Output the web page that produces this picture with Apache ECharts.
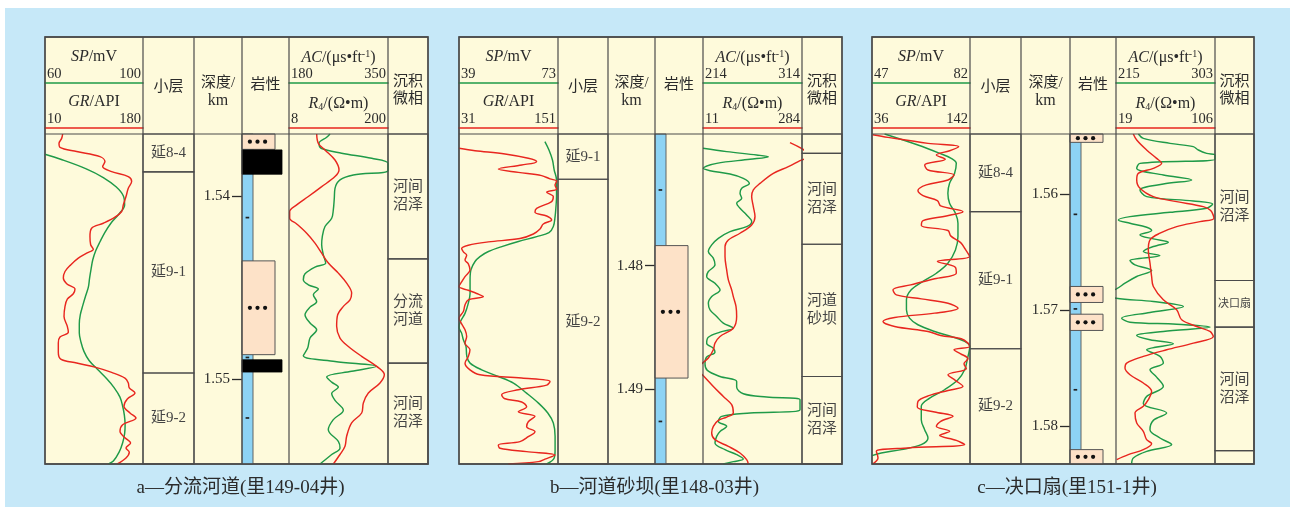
<!DOCTYPE html>
<html><head><meta charset="utf-8">
<script src="https://cdn.jsdelivr.net/npm/echarts@6/dist/echarts.min.js"></script>
<style>html,body{margin:0;padding:0;background:#fff}#c{width:1295px;height:507px}</style>
</head><body><div id="c"></div>
<script>
// ---------------- DATA (depth in metres, values in log units) ----------------
const aTitle = 'a—分流河道(里149-04井)';
const bTitle = 'b—河道砂坝(里148-03井)';
const cTitle = 'c—决口扇(里151-1井)';

const aScaleSP = [60, 100], aScaleGR = [10, 180], aScaleAC = [180, 350], aScaleR4 = [8, 200];
const bScaleSP = [39, 73],  bScaleGR = [31, 151], bScaleAC = [214, 314], bScaleR4 = [11, 284];
const cScaleSP = [47, 82],  cScaleGR = [36, 142], cScaleAC = [215, 303], cScaleR4 = [19, 106];

const aDepth = [1536.61, 1554.66], bDepth = [1469.34, 1496.07], cDepth = [1554.81, 1583.25];
const aTicks = [1.54, 1.55], bTicks = [1.48, 1.49], cTicks = [1.56, 1.57, 1.58];

// [depth, value]
const aSP = [[1537.72,60.0],[1537.99,66.4],[1538.50,76.6],[1538.99,83.8],[1539.50,89.0],[1540.00,92.0],[1540.49,92.5],[1541.00,90.1],[1541.49,86.9],[1542.00,84.4],[1542.49,82.5],[1543.00,80.7],[1543.49,79.5],[1544.00,78.8],[1544.49,78.2],[1544.99,77.7],[1545.50,76.5],[1546.00,75.4],[1546.50,74.4],[1546.99,74.0],[1547.50,74.0],[1548.00,74.7],[1548.50,75.9],[1549.00,78.0],[1549.48,81.4],[1550.00,85.2],[1550.48,88.2],[1551.00,90.6],[1551.50,91.7],[1552.00,92.4],[1552.50,92.7],[1553.00,92.5],[1553.50,91.7],[1554.00,90.3],[1554.50,87.9],[1554.66,85.9]];
const aGR = [[1536.61,40.6],[1536.85,38.9],[1537.12,34.3],[1537.34,36.0],[1537.57,64.9],[1537.85,105.4],[1538.12,114.0],[1538.39,110.0],[1538.67,125.6],[1538.94,154.5],[1539.21,160.3],[1539.58,154.5],[1540.03,150.5],[1540.49,145.8],[1540.85,143.0],[1541.16,131.4],[1541.49,111.2],[1541.76,90.9],[1542.22,88.0],[1542.67,89.2],[1542.91,93.8],[1543.13,82.3],[1543.40,67.8],[1543.77,54.5],[1544.13,44.7],[1544.49,41.8],[1544.80,47.6],[1545.09,62.0],[1545.35,59.1],[1545.64,48.7],[1546.04,44.7],[1546.59,43.0],[1547.13,48.7],[1547.46,50.5],[1547.72,36.0],[1548.04,33.1],[1548.55,33.1],[1548.92,37.2],[1549.14,64.9],[1549.36,96.7],[1549.65,125.6],[1549.96,148.7],[1550.23,154.5],[1550.50,156.2],[1550.78,166.1],[1551.10,152.8],[1551.50,147.0],[1551.87,157.4],[1552.14,167.8],[1552.51,144.7],[1552.87,140.1],[1553.23,148.7],[1553.51,158.5],[1553.78,150.5],[1554.02,156.2],[1554.33,150.5],[1554.66,135.4]];
const aAC = [[1536.61,250.4],[1536.79,244.7],[1537.12,231.5],[1537.39,235.0],[1537.66,270.4],[1537.94,322.0],[1538.21,350.0],[1538.61,350.0],[1538.85,290.5],[1539.12,267.6],[1539.58,259.0],[1540.12,257.8],[1540.76,256.1],[1541.22,253.3],[1541.67,241.8],[1542.22,237.2],[1542.67,236.1],[1543.22,239.0],[1543.67,243.0],[1543.89,224.6],[1544.26,207.5],[1544.58,204.6],[1544.86,213.2],[1545.09,230.4],[1545.40,221.8],[1545.77,227.5],[1546.08,216.1],[1546.50,207.5],[1546.95,216.1],[1547.32,227.5],[1547.77,216.1],[1548.32,212.1],[1548.74,204.6],[1549.05,259.0],[1549.32,330.5],[1549.59,287.6],[1549.90,244.7],[1550.18,253.3],[1550.45,264.7],[1550.81,253.3],[1551.18,259.0],[1551.72,273.3],[1552.23,256.1],[1552.78,247.5],[1553.42,264.7],[1553.78,267.6],[1554.14,253.3],[1554.66,233.2]];
const aR4 = [[1536.61,61.7],[1537.12,64.9],[1537.48,77.8],[1538.03,97.2],[1538.58,105.0],[1538.94,97.2],[1539.49,71.4],[1540.03,45.5],[1540.49,22.9],[1540.85,9.3],[1541.22,9.3],[1541.53,22.9],[1542.04,42.3],[1542.58,58.4],[1543.13,71.4],[1543.67,84.3],[1544.22,103.7],[1544.77,119.8],[1545.31,129.5],[1545.68,126.3],[1546.04,113.4],[1546.50,102.4],[1547.13,100.4],[1547.77,106.9],[1548.23,123.1],[1548.77,148.9],[1549.32,178.0],[1549.77,192.9],[1550.23,184.5],[1550.78,161.9],[1551.32,152.2],[1551.87,148.9],[1552.41,129.5],[1553.14,119.8],[1553.69,116.6],[1554.14,106.9],[1554.66,94.0]];

const bSP = [[1469.96,68.5],[1470.64,69.9],[1471.45,71.1],[1472.26,71.7],[1473.07,72.5],[1474.41,72.5],[1475.22,72.3],[1476.03,72.0],[1476.84,71.4],[1477.33,69.9],[1477.65,65.7],[1478.05,59.4],[1478.46,53.7],[1478.86,49.1],[1479.27,46.2],[1479.67,44.5],[1480.35,43.1],[1481.16,42.8],[1482.24,42.8],[1483.04,42.2],[1483.85,41.1],[1484.53,39.5],[1484.99,39.0],[1485.47,39.9],[1486.01,40.5],[1486.55,41.4],[1487.36,41.7],[1487.90,42.8],[1488.44,46.8],[1488.98,52.5],[1489.52,57.7],[1490.33,62.2],[1491.14,66.3],[1491.94,69.5],[1492.75,71.4],[1493.83,72.0],[1494.91,72.0],[1495.58,71.7],[1496.07,69.1]];
const bGR = [[1470.50,31.0],[1470.69,50.4],[1470.96,86.8],[1471.31,115.0],[1471.58,125.1],[1471.85,107.0],[1472.18,78.7],[1472.45,102.9],[1472.71,131.2],[1472.98,141.3],[1473.15,149.4],[1473.47,147.4],[1473.79,149.4],[1474.06,137.3],[1474.41,145.3],[1474.82,143.3],[1475.36,125.1],[1475.68,123.1],[1475.98,137.3],[1476.30,143.3],[1476.63,133.2],[1477.03,129.2],[1477.44,121.1],[1477.81,104.9],[1478.08,66.6],[1478.35,42.3],[1478.62,34.2],[1478.89,36.3],[1479.16,40.3],[1479.54,38.3],[1479.86,42.3],[1480.35,44.3],[1480.89,38.3],[1481.32,34.2],[1481.70,31.0],[1482.00,42.3],[1482.26,52.4],[1482.51,60.5],[1482.77,42.3],[1483.18,38.3],[1483.72,36.3],[1484.26,31.0],[1484.72,34.2],[1485.20,38.3],[1485.74,40.3],[1486.28,38.3],[1486.82,44.3],[1487.36,42.3],[1487.90,38.3],[1488.44,44.3],[1488.84,56.5],[1489.11,107.0],[1489.38,141.3],[1489.68,137.3],[1490.06,102.9],[1490.46,82.7],[1490.76,85.9],[1491.05,107.0],[1491.43,113.0],[1491.84,102.9],[1492.21,123.1],[1492.65,115.0],[1493.05,113.0],[1493.45,123.1],[1493.86,115.0],[1494.26,104.9],[1494.53,78.7],[1494.80,80.7],[1495.07,113.0],[1495.34,147.4],[1495.67,135.2],[1495.88,127.2],[1496.07,90.8]];
const bAC = [[1470.50,214.0],[1470.77,237.9],[1471.04,268.2],[1471.18,280.0],[1471.39,261.5],[1471.72,227.8],[1472.12,214.3],[1472.31,221.1],[1472.58,241.3],[1472.93,254.7],[1473.34,260.8],[1473.74,253.1],[1474.14,251.4],[1474.55,253.1],[1474.95,248.0],[1475.36,251.4],[1475.90,258.1],[1476.44,263.2],[1476.84,258.1],[1477.25,241.3],[1477.79,229.5],[1478.32,222.8],[1478.86,219.4],[1479.40,224.4],[1479.94,226.1],[1480.48,219.4],[1480.89,217.7],[1481.43,226.1],[1481.97,231.2],[1482.51,222.8],[1483.04,219.4],[1483.58,221.1],[1484.12,227.8],[1484.66,234.5],[1485.07,244.6],[1485.39,231.2],[1485.80,219.4],[1486.28,217.7],[1486.69,224.4],[1487.01,226.1],[1487.41,217.7],[1487.95,216.0],[1488.49,218.4],[1488.98,231.2],[1489.38,248.0],[1489.84,248.0],[1490.38,254.7],[1490.65,278.3],[1490.87,312.0],[1491.67,312.0],[1491.94,261.5],[1492.21,232.9],[1492.62,229.5],[1493.02,237.9],[1493.43,231.2],[1493.83,227.8],[1494.37,226.1],[1494.91,236.2],[1495.31,248.0],[1495.67,254.7],[1495.88,244.6],[1496.07,234.5]];
const bR4 = [[1470.04,250.9],[1471.12,306.0],[1471.50,278.5],[1471.99,246.3],[1472.53,205.0],[1473.34,168.2],[1473.87,149.8],[1474.41,145.2],[1475.22,149.8],[1476.03,154.4],[1476.71,145.2],[1477.38,113.0],[1477.92,80.9],[1478.46,71.7],[1479.27,71.7],[1480.35,76.3],[1481.16,80.9],[1481.97,90.1],[1482.51,94.6],[1483.31,102.0],[1484.12,103.8],[1485.07,94.6],[1485.74,57.9],[1486.28,44.1],[1486.82,39.5],[1487.49,25.7],[1487.84,11.9],[1488.38,-6.0],[1488.92,11.9],[1489.79,39.5],[1490.60,67.1],[1491.27,90.1],[1491.94,94.6],[1492.27,76.3],[1492.54,53.3],[1493.02,39.5],[1493.56,34.9],[1494.10,44.1],[1494.64,80.9],[1495.18,113.0],[1495.72,131.4],[1496.07,136.0]];

const cSP = [[1554.81,51.5],[1555.76,63.4],[1556.48,71.2],[1556.91,75.3],[1557.34,77.1],[1558.20,76.5],[1559.06,74.7],[1559.92,74.1],[1560.78,74.7],[1561.64,76.8],[1562.50,77.7],[1563.65,77.7],[1564.80,76.8],[1565.95,74.1],[1566.81,70.0],[1567.52,65.2],[1568.24,61.0],[1569.10,59.3],[1569.96,59.3],[1570.68,60.4],[1571.25,63.4],[1571.83,69.4],[1572.26,75.3],[1572.69,80.1],[1573.12,81.9],[1574.27,81.0],[1575.13,80.1],[1575.99,77.7],[1576.85,72.9],[1577.57,67.6],[1578.28,64.6],[1579.43,64.6],[1580.29,65.8],[1581.01,67.0],[1581.58,64.6],[1582.01,57.5],[1582.30,50.3],[1582.53,47.0]];
const cGR = [[1554.87,36.7],[1555.10,53.3],[1555.62,96.6],[1555.90,129.7],[1556.25,120.0],[1556.62,105.6],[1556.99,115.3],[1557.48,93.0],[1557.91,96.6],[1558.34,124.7],[1558.77,118.2],[1559.20,94.8],[1559.69,85.7],[1560.12,91.2],[1560.55,106.7],[1561.01,110.3],[1561.50,134.4],[1561.87,116.4],[1562.27,91.2],[1562.70,89.4],[1563.13,118.2],[1563.59,121.1],[1564.17,131.9],[1564.74,136.9],[1565.37,141.6],[1565.80,106.7],[1566.29,126.1],[1566.81,127.2],[1567.29,103.8],[1567.81,77.8],[1568.24,58.7],[1568.67,62.3],[1569.02,89.4],[1569.39,118.2],[1569.82,129.0],[1570.25,103.8],[1570.62,60.5],[1570.97,47.9],[1571.40,60.5],[1571.83,96.6],[1572.17,110.3],[1572.46,132.6],[1572.83,139.8],[1573.12,141.6],[1573.41,124.7],[1573.75,131.9],[1574.18,139.8],[1574.61,135.5],[1575.04,138.0],[1575.56,118.2],[1576.04,126.1],[1576.56,134.4],[1576.91,118.2],[1577.34,98.4],[1577.85,85.7],[1578.34,85.0],[1578.77,103.8],[1579.14,123.6],[1579.57,110.3],[1580.00,105.6],[1580.43,120.0],[1580.78,109.2],[1581.21,127.2],[1581.58,136.2],[1581.87,74.9],[1582.16,40.7],[1582.73,42.5],[1583.25,36.7]];
const cAC = [[1554.81,234.9],[1555.19,239.3],[1555.62,263.0],[1555.90,283.7],[1556.19,288.2],[1556.48,295.6],[1556.62,303.0],[1556.99,303.0],[1557.34,236.3],[1557.77,233.4],[1558.34,257.1],[1558.77,282.3],[1559.12,257.1],[1559.63,236.3],[1560.21,242.3],[1560.58,283.7],[1560.84,300.9],[1561.21,295.6],[1561.56,263.0],[1561.93,227.4],[1562.22,217.1],[1562.50,227.4],[1562.85,242.3],[1563.13,246.7],[1563.51,236.3],[1563.85,248.2],[1564.14,261.5],[1564.51,248.2],[1564.94,239.3],[1565.29,254.1],[1565.72,227.4],[1566.09,231.9],[1566.58,246.7],[1567.09,233.4],[1567.67,223.0],[1568.18,215.0],[1568.59,204.0],[1568.96,215.0],[1569.25,248.2],[1569.68,274.9],[1570.19,245.2],[1570.68,220.0],[1571.03,227.4],[1571.20,268.9],[1571.45,298.6],[1571.83,257.1],[1572.17,233.4],[1572.54,245.2],[1572.89,266.0],[1573.41,242.3],[1573.98,254.1],[1574.55,257.1],[1575.13,245.2],[1575.76,251.1],[1576.56,257.1],[1577.42,242.3],[1578.05,239.3],[1578.86,260.0],[1579.49,248.2],[1580.29,245.2],[1581.01,254.1],[1581.58,264.5],[1582.16,242.3],[1582.73,230.4],[1583.25,228.9]];
const cR4 = [[1554.81,34.2],[1555.33,37.2],[1556.19,45.9],[1556.91,54.7],[1557.34,59.1],[1557.77,51.8],[1558.20,38.6],[1558.77,37.2],[1559.49,40.1],[1560.21,51.8],[1560.64,72.3],[1561.07,95.7],[1561.41,102.2],[1562.07,105.1],[1562.36,92.8],[1562.79,72.3],[1563.36,57.7],[1563.94,48.9],[1564.80,47.4],[1565.95,48.9],[1567.09,50.3],[1567.95,51.8],[1569.10,60.6],[1569.96,72.3],[1570.82,76.7],[1571.40,89.9],[1571.83,101.6],[1572.26,104.5],[1572.83,87.0],[1573.41,63.5],[1573.98,43.0],[1574.55,28.4],[1574.98,26.9],[1575.56,31.3],[1576.27,43.0],[1576.99,50.3],[1577.71,47.4],[1578.28,43.0],[1578.86,35.7],[1579.72,37.2],[1580.43,43.0],[1581.15,45.9],[1581.50,50.3],[1582.01,43.0],[1582.44,29.8],[1582.87,19.6]];

// [top, bottom, label]
const aZones = [[1536.61,1538.68,'延8-4'],[1538.68,1549.68,'延9-1'],[1549.68,1554.66,'延9-2']];
const bZones = [[1469.34,1473.01,'延9-1'],[1473.01,1496.07,'延9-2']];
const cZones = [[1554.81,1561.50,'延8-4'],[1561.50,1573.32,'延9-1'],[1573.32,1583.25,'延9-2']];
const aFacies = [[1536.61,1543.44,'河间\n沼泽'],[1543.44,1549.14,'分流\n河道'],[1549.14,1554.66,'河间\n沼泽']];
const bFacies = [[1469.34,1470.91,''],[1470.91,1478.27,'河间\n沼泽'],[1478.27,1488.98,'河道\n砂坝'],[1488.98,1496.07,'河间\n沼泽']];
const cFacies = [[1554.81,1567.44,'河间\n沼泽'],[1567.44,1571.45,'决口扇'],[1571.45,1582.10,'河间\n沼泽'],[1582.10,1583.25,'']];

// lithology [top, bottom, kind]
const aLitho = [[1536.61,1554.66,'mud'],[1536.61,1537.45,'sand'],[1537.48,1538.81,'coal'],[1543.55,1548.68,'sand'],[1548.96,1549.63,'coal']];
const bLitho = [[1469.34,1496.07,'mud'],[1478.38,1489.11,'sand']];
const cLitho = [[1554.81,1583.25,'mud'],[1554.81,1555.53,'sand'],[1567.95,1569.33,'sand'],[1570.34,1571.74,'sand'],[1582.01,1583.25,'sand']];
const aDash = [1541.18,1548.83,1552.14];
const bDash = [1473.87,1492.62];
const cDash = [1561.73,1569.88,1576.85];

// ---------------- LAYOUT / STYLE ----------------
const SERIF = '"Liberation Serif","Noto Sans CJK SC",serif';
const CJK = '"Liberation Serif","Noto Sans CJK SC",sans-serif';
const GREEN = '#1f9a48', RED = '#e8261f', INK = '#2b2b2b', FRAME = '#4a4a4a';
const HEAD = 37, TOP = 134, BOT = 464;

const panels = [
  {cols:[45,143,194,242,289,388,428], sp:aSP, gr:aGR, ac:aAC, r4:aR4, sSP:aScaleSP, sGR:aScaleGR, sAC:aScaleAC, sR4:aScaleR4, depth:aDepth, ticks:aTicks, zones:aZones, facies:aFacies, litho:aLitho, dash:aDash, title:aTitle},
  {cols:[459,558,608,655,703,802,842], sp:bSP, gr:bGR, ac:bAC, r4:bR4, sSP:bScaleSP, sGR:bScaleGR, sAC:bScaleAC, sR4:bScaleR4, depth:bDepth, ticks:bTicks, zones:bZones, facies:bFacies, litho:bLitho, dash:bDash, title:bTitle},
  {cols:[872,970,1021,1070,1116,1215,1254], sp:cSP, gr:cGR, ac:cAC, r4:cR4, sSP:cScaleSP, sGR:cScaleGR, sAC:cScaleAC, sR4:cScaleR4, depth:cDepth, ticks:cTicks, zones:cZones, facies:cFacies, litho:cLitho, dash:cDash, title:cTitle}
];

const richName = {
  i:{fontStyle:'italic', fontFamily:SERIF, fontSize:16, color:INK},
  n:{fontFamily:SERIF, fontSize:16, color:INK},
  sup:{fontFamily:SERIF, fontSize:10, color:INK, verticalAlign:'top', padding:[0,0,8,0]},
  sub:{fontFamily:SERIF, fontSize:10, color:INK, verticalAlign:'bottom', padding:[6,0,0,0]}
};

const option = {animation:false, grid:[], xAxis:[], yAxis:[], series:[], graphic:{elements:[]}};
const G = option.graphic.elements;
G.push({type:'rect', shape:{x:5, y:8, width:1285, height:499}, style:{fill:'#c6e8f8'}, z:-10});

function text(x, y, t, size, extra) {
  return Object.assign({type:'text', x:x, y:y, z:20,
    style:{text:t, font:size+'px '+CJK, fill:INK, align:'center', verticalAlign:'middle', textAlign:'center', textVerticalAlign:'middle', lineHeight:size+3}}, extra||{});
}

panels.forEach(function(P){
  const c = P.cols;
  function addGrid(x0, x1){ option.grid.push({left:x0, top:TOP, width:x1-x0, height:BOT-TOP}); return option.grid.length-1; }
  function addY(gi, extra){ option.yAxis.push(Object.assign({gridIndex:gi, type:'value', inverse:true, min:P.depth[0], max:P.depth[1], show:false}, extra||{})); return option.yAxis.length-1; }
  function addX(gi, extra){ option.xAxis.push(Object.assign({gridIndex:gi, type:'value', min:0, max:1, show:false}, extra||{})); return option.xAxis.length-1; }
  function curveAxis(gi, sc, color, offset, name, gap){
    return addX(gi, {show:true, position:'top', min:sc[0], max:sc[1], offset:offset,
      axisLine:{show:true, onZero:false, lineStyle:{color:color, width:1.6}}, axisTick:{show:false}, splitLine:{show:false},
      axisLabel:{show:true, customValues:sc, alignMinLabel:'left', alignMaxLabel:'right', margin:2, padding:[0,2,0,2], color:INK, fontFamily:SERIF, fontSize:14.5},
      name:name, nameLocation:'middle', nameGap:gap, nameMoveOverlap:false, nameTextStyle:{fontFamily:SERIF, fontSize:16, color:INK, rich:richName}});
  }
  function line(xi, yi, arr, color){
    option.series.push({type:'line', xAxisIndex:xi, yAxisIndex:yi, data:arr.map(function(d){return [d[1], d[0]];}),
      showSymbol:false, symbol:'none', smooth:0.35, clip:true, silent:true, lineStyle:{color:color, width:1.45}, itemStyle:{color:color}});
  }
  function bands(gi, list){
    const xi = addX(gi), yi = addY(gi);
    option.series.push({type:'custom', xAxisIndex:xi, yAxisIndex:yi, silent:true, data:list.map(function(d){return [d[0], d[1]];}),
      renderItem:function(params, api){
        const cs = params.coordSys, y0 = api.coord([0, api.value(0)])[1], y1 = api.coord([0, api.value(1)])[1];
        const lbl = list[params.dataIndex][2];
        const fs = (lbl.indexOf('\n') < 0 && lbl.length === 3 && lbl[0] === '决') ? 11 : 15;
        return {type:'group', children:[
          {type:'rect', shape:{x:cs.x, y:y0, width:cs.width, height:y1-y0}, style:{fill:'none', stroke:FRAME, lineWidth:1.1}},
          {type:'text', x:cs.x+cs.width/2, y:(y0+y1)/2, style:{text:lbl, font:fs+'px '+CJK, fill:'#444', align:'center', verticalAlign:'middle', textAlign:'center', textVerticalAlign:'middle', lineHeight:18}}
        ]};
      }});
  }

  // Track 1: SP / GR
  let gi = addGrid(c[0], c[1]);
  let yi = addY(gi);
  let xSP = curveAxis(gi, P.sSP, GREEN, 51, '{i|SP}{n|/mV}', 18);
  let xGR = curveAxis(gi, P.sGR, RED, 6, '{i|GR}{n|/API}', 18);
  line(xSP, yi, P.sp, GREEN);
  line(xGR, yi, P.gr, RED);

  // zones
  bands(addGrid(c[1], c[2]), P.zones);

  // lithology with depth axis
  gi = addGrid(c[3], c[4]);
  const xL = addX(gi);
  const tickVals = P.ticks.map(function(t){return Math.round(t*1000);});
  const yL = addY(gi, {show:true, position:'left', axisLine:{show:false}, splitLine:{show:false},
    axisTick:{show:true, length:10, customValues:tickVals, lineStyle:{color:INK, width:1.3}},
    axisLabel:{show:true, customValues:tickVals, margin:12, color:INK, fontFamily:SERIF, fontSize:15,
      formatter:function(v){return (v/1000).toFixed(2);}}});
  const litho = P.litho;
  option.series.push({type:'custom', xAxisIndex:xL, yAxisIndex:yL, silent:true, data:litho.map(function(d){return [d[0], d[1]];}),
    renderItem:function(params, api){
      const cs = params.coordSys, y0 = api.coord([0, api.value(0)])[1], y1 = api.coord([0, api.value(1)])[1];
      const k = litho[params.dataIndex][2];
      if (k === 'mud') return {type:'rect', shape:{x:cs.x, y:y0, width:11, height:y1-y0}, style:{fill:'#8dd3f4', stroke:'#555', lineWidth:0.9}};
      if (k === 'coal') return {type:'rect', shape:{x:cs.x, y:y0, width:40, height:y1-y0}, style:{fill:'#000', stroke:'#000', lineWidth:0.8}};
      const w = 33, cx = cs.x + w/2 - 1, cy = (y0+y1)/2;
      return {type:'group', children:[
        {type:'rect', shape:{x:cs.x, y:y0, width:w, height:y1-y0}, style:{fill:'#fde2c8', stroke:'#555', lineWidth:1}},
        {type:'circle', shape:{cx:cx-7.6, cy:cy, r:2.1}, style:{fill:'#111'}},
        {type:'circle', shape:{cx:cx, cy:cy, r:2.1}, style:{fill:'#111'}},
        {type:'circle', shape:{cx:cx+7.6, cy:cy, r:2.1}, style:{fill:'#111'}}
      ]};
    }});
  option.series.push({type:'custom', xAxisIndex:xL, yAxisIndex:yL, silent:true, z:3, data:P.dash.map(function(d){return [d];}),
    renderItem:function(params, api){
      const cs = params.coordSys, y = api.coord([0, api.value(0)])[1];
      return {type:'rect', shape:{x:cs.x+3.6, y:y-0.8, width:3.6, height:1.7}, style:{fill:'#222'}};
    }});

  // Track 2: AC / R4
  gi = addGrid(c[4], c[5]);
  yi = addY(gi);
  let xAC = curveAxis(gi, P.sAC, GREEN, 51, '{i|AC}{n|/(μs•ft}{sup|-1}{n|)}', 16);
  let xR4 = curveAxis(gi, P.sR4, RED, 6, '{i|R}{sub|4}{n|/(Ω•m)}', 16);
  line(xAC, yi, P.ac, GREEN);
  line(xR4, yi, P.r4, RED);

  // facies
  bands(addGrid(c[5], c[6]), P.facies);

  // frame
  G.push({type:'rect', shape:{x:c[0], y:HEAD, width:c[6]-c[0], height:BOT-HEAD}, style:{fill:'#fefadb', stroke:FRAME, lineWidth:1.3}, z:-5});
  for (let i = 1; i <= 5; i++) G.push({type:'line', shape:{x1:c[i], y1:HEAD, x2:c[i], y2:BOT}, style:{stroke:FRAME, lineWidth:1.2}, z:30});
  G.push({type:'line', shape:{x1:c[0], y1:TOP, x2:c[6], y2:TOP}, style:{stroke:FRAME, lineWidth:1.2}, z:30});
  G.push({type:'rect', shape:{x:c[0], y:HEAD, width:c[6]-c[0], height:BOT-HEAD}, style:{fill:'none', stroke:FRAME, lineWidth:1.3}, z:30});
  // headers
  G.push(text((c[1]+c[2])/2, 87, '小层', 15));
  G.push(text((c[2]+c[3])/2, 83, '深度/', 15));
  G.push(text((c[2]+c[3])/2, 101, 'km', 16));
  G.push(text((c[3]+c[4])/2, 85, '岩性', 15));
  G.push(text((c[5]+c[6])/2, 82, '沉积', 15));
  G.push(text((c[5]+c[6])/2, 99, '微相', 15));
  // caption
  G.push(text((c[0]+c[6])/2 + 4, 488, P.title, 19));
});

const chart = echarts.init(document.getElementById('c'), null, {renderer:'canvas'});
chart.setOption(option);
</script></body></html>
